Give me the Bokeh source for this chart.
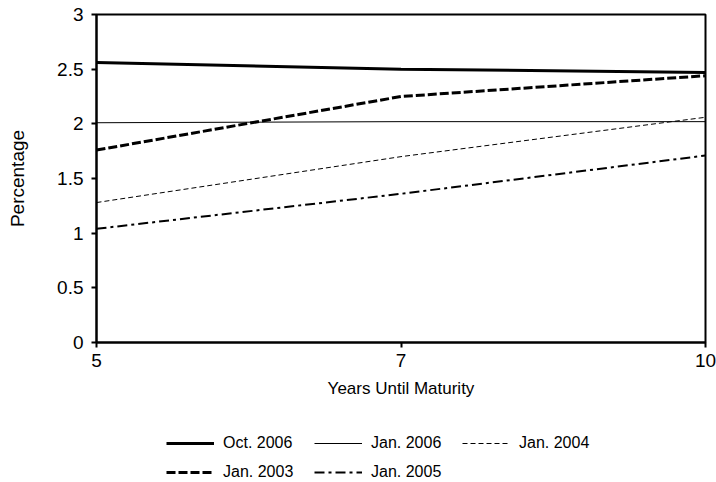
from bokeh.plotting import figure
from bokeh.layouts import column
from bokeh.models import FixedTicker, Legend, LegendItem, Range1d
from bokeh.embed import file_html
from bokeh.resources import INLINE

maturities = ["5", "7", "10"]
oct_2006 = [2.56, 2.50, 2.47]
jan_2006 = [2.01, 2.02, 2.02]
jan_2004 = [1.28, 1.70, 2.06]
jan_2003 = [1.76, 2.25, 2.44]
jan_2005 = [1.04, 1.36, 1.71]
y_ticks = [0, 0.5, 1, 1.5, 2, 2.5, 3]
y_tick_labels = ["0", "0.5", "1", "1.5", "2", "2.5", "3"]

series = [
    ("Oct. 2006", oct_2006),
    ("Jan. 2006", jan_2006),
    ("Jan. 2004", jan_2004),
    ("Jan. 2003", jan_2003),
    ("Jan. 2005", jan_2005),
]
styles = {
    "Oct. 2006": dict(line_width=3, line_dash="solid"),
    "Jan. 2006": dict(line_width=1, line_dash="solid"),
    "Jan. 2004": dict(line_width=1, line_dash="5 3"),
    "Jan. 2003": dict(line_width=3, line_dash="9 3"),
    "Jan. 2005": dict(line_width=2, line_dash="10 4 3 4"),
}

xs = list(range(len(maturities)))
FONT = "Liberation Sans"

p = figure(width=716, height=405, output_backend="svg", toolbar_location=None,
           x_range=Range1d(xs[0], xs[-1]), y_range=Range1d(0, 3),
           min_border_left=96, min_border_right=11, min_border_top=14, min_border_bottom=63)
p.background_fill_color = "white"
p.border_fill_color = "white"
p.outline_line_color = "black"
p.outline_line_width = 2
p.xgrid.visible = False
p.ygrid.visible = False

for name, vals in series:
    p.line(xs, vals, line_color="black", **styles[name])

p.xaxis.ticker = FixedTicker(ticks=xs)
p.xaxis.major_label_overrides = {x: m for x, m in zip(xs, maturities)}
p.yaxis.ticker = FixedTicker(ticks=y_ticks)
p.yaxis.major_label_overrides = {t: l for t, l in zip(y_ticks, y_tick_labels)}

for ax in (p.xaxis[0], p.yaxis[0]):
    ax.axis_line_color = "black"
    ax.axis_line_width = 2
    ax.major_tick_line_color = "black"
    ax.major_tick_line_width = 2
    ax.major_tick_out = 5
    ax.major_tick_in = 0
    ax.minor_tick_line_color = None
    ax.major_label_text_font = FONT
    ax.major_label_text_font_size = "19px"
    ax.major_label_text_color = "black"
    ax.axis_label_text_font = FONT
    ax.axis_label_text_font_style = "normal"
    ax.axis_label_text_color = "black"

p.xaxis.axis_label = "Years Until Maturity"
p.yaxis.axis_label = "Percentage"
p.xaxis.axis_label_text_font_size = "17px"
p.yaxis.axis_label_text_font_size = "19px"
p.xaxis.major_label_standoff = 6
p.yaxis.major_label_standoff = 8
p.xaxis.axis_label_standoff = 9
p.yaxis.axis_label_standoff = 26

# legend-only figure below the chart (its lines lie outside its visible range)
lg = figure(width=716, height=77, output_backend="svg", toolbar_location=None,
            x_range=Range1d(0, 1), y_range=Range1d(100, 101),
            x_axis_location=None, y_axis_location=None,
            min_border_left=0, min_border_right=0, min_border_top=0, min_border_bottom=0)
lg.outline_line_color = None
lg.xgrid.visible = False
lg.ygrid.visible = False
handles = {}
for name, vals in series:
    handles[name] = lg.line(xs, vals, line_color="black", **styles[name])

order = ["Oct. 2006", "Jan. 2003", "Jan. 2006", "Jan. 2005", "Jan. 2004"]
legend = Legend(items=[LegendItem(label=n, renderers=[handles[n]]) for n in order],
                orientation="vertical", nrows=2, location=(70, 0))
legend.label_text_font = FONT
legend.label_text_font_size = "16px"
legend.label_text_color = "black"
legend.glyph_width = 48
legend.glyph_height = 20
legend.label_height = 20
legend.label_width = 82
legend.label_standoff = 9
legend.spacing = 9
legend.border_line_color = None
legend.background_fill_alpha = 0
legend.margin = 0
legend.padding = 0
lg.add_layout(legend, "center")

layout = column(p, lg, spacing=0)
open("out.html", "w").write(file_html(layout, INLINE))
